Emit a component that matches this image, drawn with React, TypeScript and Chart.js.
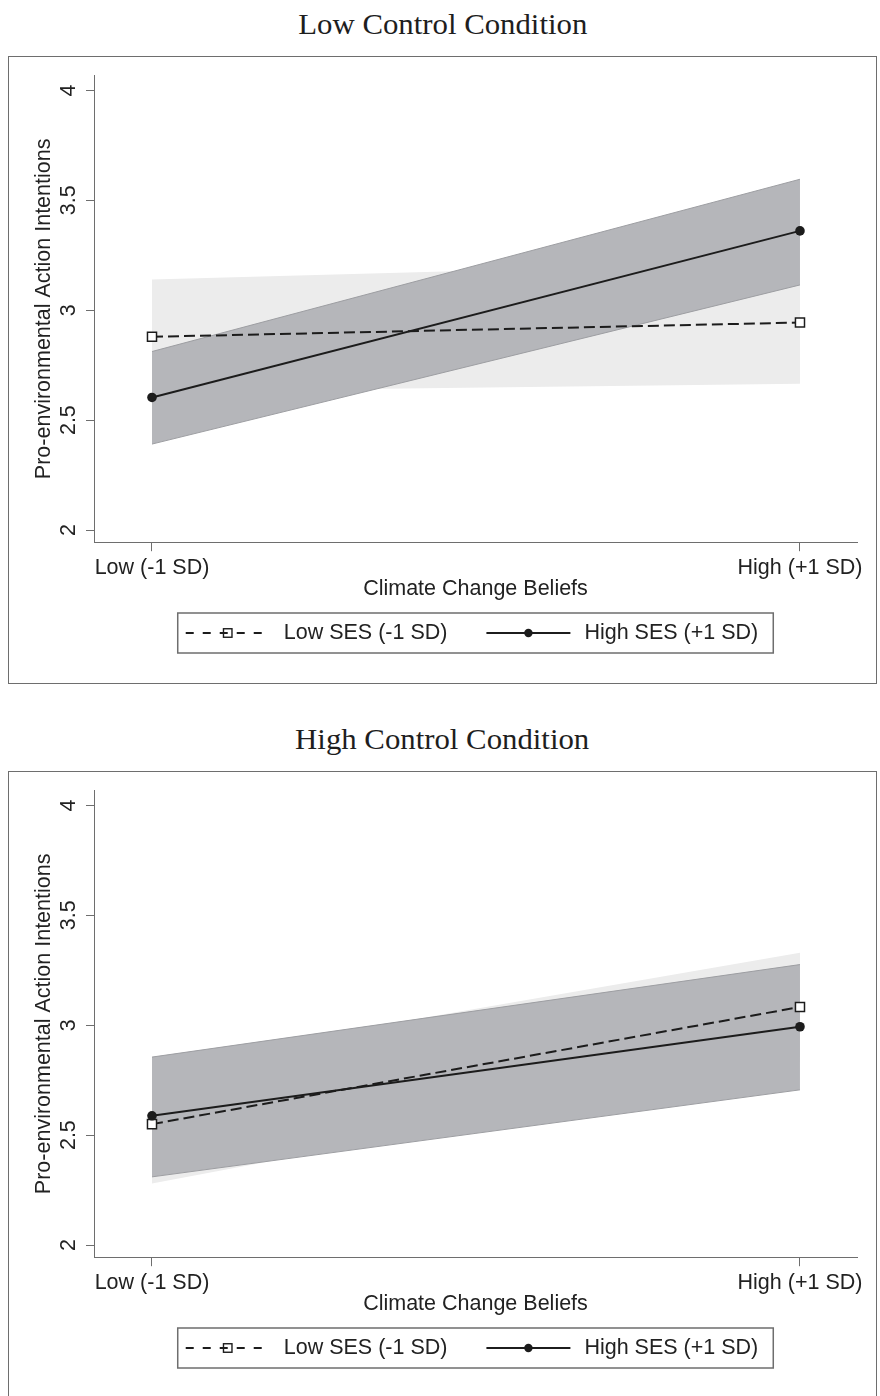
import React, { useEffect, useRef } from 'react';
import { Chart, registerables } from 'chart.js';

Chart.register(...registerables);

// ---------- data ----------
const panelTitles = ['Low Control Condition', 'High Control Condition'];
const xValues = [-1, 1];
const xTickLabels = ['Low (-1 SD)', 'High (+1 SD)'];
const yTickValues = [2, 2.5, 3, 3.5, 4];
const xAxisTitle = 'Climate Change Beliefs';
const yAxisTitle = 'Pro-environmental Action Intentions';
const seriesLabels = ['Low SES (-1 SD)', 'High SES (+1 SD)'];

// Low control condition
const lowCtrlLowSES = [2.879, 2.944];
const lowCtrlLowSESLower = [2.63, 2.665];
const lowCtrlLowSESUpper = [3.14, 3.22];
const lowCtrlHighSES = [2.603, 3.361];
const lowCtrlHighSESLower = [2.391, 3.115];
const lowCtrlHighSESUpper = [2.812, 3.596];

// High control condition
const highCtrlLowSES = [2.55, 3.083];
const highCtrlLowSESLower = [2.28, 2.835];
const highCtrlLowSESUpper = [2.82, 3.33];
const highCtrlHighSES = [2.588, 2.993];
const highCtrlHighSESLower = [2.31, 2.706];
const highCtrlHighSESUpper = [2.855, 3.276];

// ---------- style ----------
const SANS = '"Liberation Sans", Arial, Helvetica, sans-serif';
const SERIF = '"Liberation Serif", "Times New Roman", serif';
const FONT_SIZE = 21.5;
const TEXT = '#222222';
const INK = '#1c1c1c';
const AXIS = '#6e6e6e';
const LIGHT = '#ececec';
const DARK = '#b5b6ba';
const DARK_EDGE = '#9d9ea2';
const CANVAS_W = 869;
const CANVAS_H = 627;

const boxLegendPlugin = {
  id: 'boxLegend',
  afterDraw(chart: any, _args: any, opts: any) {
    const { ctx, chartArea } = chart;
    const items: number[] = opts.items;
    ctx.save();
    ctx.font = `${opts.fontSize}px ${opts.fontFamily}`;
    const labels = items.map((i) => chart.data.datasets[i].label as string);
    const widths = labels.map((l) => ctx.measureText(l).width);
    const total =
      opts.padLeft +
      opts.padRight +
      items.length * (opts.sampleLen + opts.textGap) +
      widths.reduce((a: number, b: number) => a + b, 0) +
      (items.length - 1) * opts.itemGap;
    const cx = (chartArea.left + chartArea.right) / 2;
    const left = cx - total / 2;
    const top = chartArea.bottom + opts.offsetTop;
    const h = opts.height;
    ctx.strokeStyle = opts.borderColor;
    ctx.lineWidth = opts.borderWidth;
    ctx.strokeRect(left, top, total, h);
    const cy = top + h / 2;
    let x = left + opts.padLeft;
    items.forEach((di, k) => {
      const ds = chart.data.datasets[di];
      ctx.strokeStyle = ds.borderColor;
      ctx.lineWidth = ds.borderWidth;
      ctx.setLineDash(opts.dashes[k] || []);
      ctx.beginPath();
      ctx.moveTo(x, cy);
      ctx.lineTo(x + opts.sampleLen, cy);
      ctx.stroke();
      ctx.setLineDash([]);
      const mx = x + opts.sampleLen / 2;
      if (ds.pointStyle === 'rect') {
        const s = opts.squareSize;
        ctx.lineWidth = 1.4;
        ctx.strokeStyle = ds.pointBorderColor;
        ctx.strokeRect(mx - s / 2, cy - s / 2, s, s);
      } else {
        ctx.fillStyle = ds.pointBackgroundColor;
        ctx.beginPath();
        ctx.arc(mx, cy, opts.circleRadius, 0, Math.PI * 2);
        ctx.fill();
      }
      x += opts.sampleLen + opts.textGap;
      ctx.fillStyle = opts.color;
      ctx.textAlign = 'left';
      ctx.textBaseline = 'middle';
      ctx.fillText(labels[k], x, cy);
      x += widths[k] + opts.itemGap;
    });
    ctx.restore();
  },
};

function pts(arr: number[]) {
  return xValues.map((x, i) => ({ x, y: arr[i] }));
}

function buildDatasets(
  lowSES: number[],
  lowLo: number[],
  lowHi: number[],
  highSES: number[],
  highLo: number[],
  highHi: number[]
) {
  return [
    {
      label: 'Low SES CI lower',
      data: pts(lowLo),
      borderColor: 'rgba(0,0,0,0)',
      borderWidth: 1,
      pointRadius: 0,
      fill: { target: 1 },
      backgroundColor: LIGHT,
      order: 10,
    },
    {
      label: 'Low SES CI upper',
      data: pts(lowHi),
      borderColor: 'rgba(0,0,0,0)',
      borderWidth: 1,
      pointRadius: 0,
      fill: false,
      order: 9,
    },
    {
      label: 'High SES CI lower',
      data: pts(highLo),
      borderColor: DARK_EDGE,
      borderWidth: 1,
      pointRadius: 0,
      fill: { target: 3 },
      backgroundColor: DARK,
      order: 8,
    },
    {
      label: 'High SES CI upper',
      data: pts(highHi),
      borderColor: DARK_EDGE,
      borderWidth: 1,
      pointRadius: 0,
      fill: false,
      order: 7,
    },
    {
      label: seriesLabels[0],
      data: pts(lowSES),
      borderColor: INK,
      borderWidth: 2,
      borderDash: [11, 5],
      fill: false,
      pointStyle: 'rect',
      pointRadius: 6.4,
      pointBorderWidth: 1.5,
      pointBackgroundColor: '#ffffff',
      pointBorderColor: INK,
      order: 1,
    },
    {
      label: seriesLabels[1],
      data: pts(highSES),
      borderColor: INK,
      borderWidth: 2,
      fill: false,
      pointStyle: 'circle',
      pointRadius: 4.8,
      pointBorderWidth: 0,
      pointBackgroundColor: INK,
      pointBorderColor: INK,
      order: 0,
    },
  ];
}

function Panel(props: { title: string; boxTop: number; datasets: any[] }) {
  const ref = useRef<HTMLCanvasElement | null>(null);
  useEffect(() => {
    if (!ref.current) return;
    const font = { family: SANS, size: FONT_SIZE };
    const chart = new Chart(ref.current, {
      type: 'line',
      data: { datasets: props.datasets as any },
      options: {
        animation: false,
        responsive: false,
        events: [],
        layout: { padding: { left: 0, top: 19.5, right: 20, bottom: 0 } },
        plugins: {
          legend: { display: false },
          tooltip: { enabled: false },
          title: { display: false },
          boxLegend: {
            items: [4, 5],
            fontSize: FONT_SIZE,
            fontFamily: SANS,
            color: TEXT,
            padLeft: 8,
            padRight: 15,
            sampleLen: 84,
            textGap: 14,
            itemGap: 39,
            offsetTop: 70.8,
            height: 40,
            borderColor: AXIS,
            borderWidth: 1.5,
            dashes: [[8, 9], []],
            squareSize: 8.5,
            circleRadius: 4.2,
          },
        } as any,
        scales: {
          x: {
            type: 'linear',
            min: -1.179,
            max: 1.176,
            afterBuildTicks: (s: any) => {
              s.ticks = xValues.map((v) => ({ value: v }));
            },
            afterFit: (s: any) => {
              s.height = 140.8;
            },
            grid: {
              drawOnChartArea: false,
              drawTicks: true,
              tickLength: 9,
              color: AXIS,
              tickColor: AXIS,
              lineWidth: 1,
            },
            border: { display: true, color: AXIS, width: 1 },
            ticks: {
              padding: 3.9,
              font,
              color: TEXT,
              minRotation: 0,
              maxRotation: 0,
              autoSkip: false,
              callback: (_v: any, i: number) => xTickLabels[i],
            },
            title: {
              display: true,
              text: xAxisTitle,
              font,
              color: TEXT,
              padding: { top: 0, bottom: 81.1 },
            },
          },
          y: {
            type: 'linear',
            min: 1.9445,
            max: 4.068,
            afterBuildTicks: (s: any) => {
              s.ticks = yTickValues.map((v) => ({ value: v }));
            },
            afterFit: (s: any) => {
              s.width = 86;
            },
            grid: {
              drawOnChartArea: false,
              drawTicks: true,
              tickLength: 8,
              color: AXIS,
              tickColor: AXIS,
              lineWidth: 1,
            },
            border: { display: true, color: AXIS, width: 1 },
            ticks: {
              padding: 2.3,
              font,
              color: TEXT,
              minRotation: 90,
              maxRotation: 90,
              crossAlign: 'center',
              autoSkip: false,
              callback: (v: any) => String(v),
            },
            title: {
              display: true,
              text: yAxisTitle,
              font,
              color: TEXT,
              padding: { top: 23, bottom: 0 },
            },
          },
        },
      } as any,
      plugins: [boxLegendPlugin as any],
    });
    return () => chart.destroy();
  }, []);

  return (
    <>
      <div
        style={{
          position: 'absolute',
          left: 8,
          width: CANVAS_W,
          top: props.boxTop - 45,
          textAlign: 'center',
          fontFamily: SERIF,
          fontSize: 28.5,
          lineHeight: '28.5px',
          color: '#1e1e1e',
          whiteSpace: 'nowrap',
        }}
      >
        <span style={{ display: 'inline-block', transform: 'scaleX(1.08)' }}>{props.title}</span>
      </div>
      <div
        style={{
          position: 'absolute',
          left: 8,
          top: props.boxTop,
          width: CANVAS_W,
          height: CANVAS_H + 0.5,
          border: `1.5px solid ${AXIS}`,
          boxSizing: 'border-box',
        }}
      />
      <canvas
        ref={ref}
        width={CANVAS_W}
        height={CANVAS_H}
        style={{ position: 'absolute', left: 8, top: props.boxTop, width: CANVAS_W, height: CANVAS_H }}
      />
    </>
  );
}

export default function App() {
  const ds1 = buildDatasets(
    lowCtrlLowSES,
    lowCtrlLowSESLower,
    lowCtrlLowSESUpper,
    lowCtrlHighSES,
    lowCtrlHighSESLower,
    lowCtrlHighSESUpper
  );
  const ds2 = buildDatasets(
    highCtrlLowSES,
    highCtrlLowSESLower,
    highCtrlLowSESUpper,
    highCtrlHighSES,
    highCtrlHighSESLower,
    highCtrlHighSESUpper
  );
  return (
    <div
      style={{
        position: 'absolute',
        left: 0,
        top: 0,
        width: 880,
        height: 1396,
        overflow: 'hidden',
        background: '#ffffff',
      }}
    >
      <Panel title={panelTitles[0]} boxTop={56} datasets={ds1} />
      <Panel title={panelTitles[1]} boxTop={771} datasets={ds2} />
    </div>
  );
}
